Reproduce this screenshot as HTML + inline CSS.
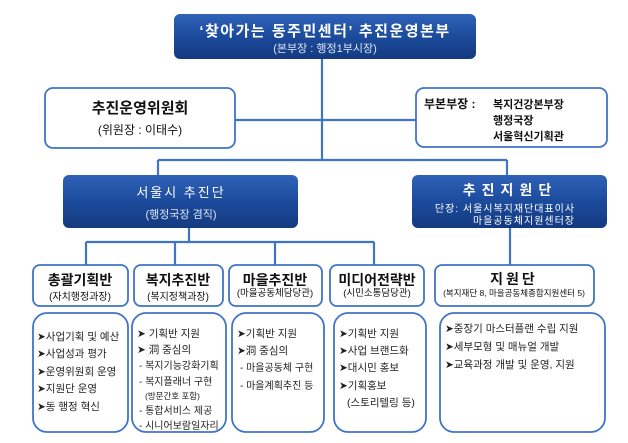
<!DOCTYPE html>
<html><head><meta charset="utf-8"><style>
html,body{margin:0;padding:0;background:#fff;}
svg{display:block;font-family:"Liberation Sans","Noto Sans CJK KR",sans-serif;}
</style></head><body>
<svg width="628" height="443" viewBox="0 0 628 443" xmlns="http://www.w3.org/2000/svg">
<defs>
<linearGradient id="g" x1="0" y1="0" x2="0" y2="1">
<stop offset="0" stop-color="#2f62b8"/><stop offset="0.5" stop-color="#1c4b9c"/><stop offset="1" stop-color="#143a80"/>
</linearGradient>
</defs>
<g stroke="#3f74c8" stroke-width="2.2" fill="none">
<line x1="322" y1="59" x2="322" y2="160"/>
<line x1="235" y1="120" x2="416" y2="120"/>
<line x1="158" y1="160" x2="507" y2="160"/>
<line x1="158" y1="160" x2="158" y2="175"/>
<line x1="507" y1="160" x2="507" y2="175"/>
<line x1="189" y1="228" x2="189" y2="242"/>
<line x1="86" y1="242" x2="374" y2="242"/>
<line x1="86" y1="242" x2="86" y2="265"/>
<line x1="175" y1="242" x2="175" y2="265"/>
<line x1="275" y1="242" x2="275" y2="265"/>
<line x1="374" y1="242" x2="374" y2="265"/>
<line x1="510" y1="228" x2="510" y2="265"/>
</g>
<rect x="174" y="14" width="302" height="45" rx="6" fill="url(#g)"/>
<rect x="63" y="175" width="235" height="53" rx="6" fill="url(#g)"/>
<rect x="412" y="175" width="195" height="53" rx="6" fill="url(#g)"/>
<g fill="#fff" stroke="#3f74c8" stroke-width="1.8">
<rect x="45" y="88" width="190" height="60" rx="8"/>
<rect x="416" y="88" width="191" height="59" rx="8"/>
<rect x="33" y="265" width="95" height="41" rx="7"/>
<rect x="134" y="265" width="89" height="41" rx="7"/>
<rect x="229" y="265" width="93" height="41" rx="7"/>
<rect x="330" y="265" width="94" height="41" rx="7"/>
<rect x="435" y="265" width="159" height="41" rx="7"/>
<rect x="33" y="313" width="95" height="119" rx="14"/>
<rect x="132" y="313" width="94" height="119" rx="14"/>
<rect x="232" y="313" width="92" height="119" rx="14"/>
<rect x="334" y="313" width="92" height="119" rx="14"/>
<rect x="440" y="313" width="165" height="119" rx="14"/>
</g>
<g fill="#fff" text-anchor="middle">
<text x="325" y="36" font-size="15" font-weight="bold" letter-spacing="1.5">‘찾아가는 동주민센터’ 추진운영본부</text>
<text x="325" y="52" font-size="11" fill="#dde6f5">(본부장 : 행정1부시장)</text>
<text x="181" y="197" font-size="13" letter-spacing="2">서울시 추진단</text>
<text x="181" y="218" font-size="11" fill="#dde6f5">(행정국장 겸직)</text>
<text x="510" y="195" font-size="14" font-weight="bold" letter-spacing="6">추진지원단</text>
<text x="505" y="212" font-size="10" letter-spacing="1">단장: 서울시복지재단대표이사</text>
<text x="524" y="224" font-size="10" letter-spacing="1">마을공동체지원센터장</text>
</g>
<g fill="#111" text-anchor="middle">
<text x="140" y="113" font-size="15" font-weight="bold">추진운영위원회</text>
<text x="140" y="134" font-size="12">(위원장 : 이태수)</text>
<text x="80" y="285" font-size="14" font-weight="bold">총괄기획반</text>
<text x="80" y="300" font-size="10">(자치행정과장)</text>
<text x="178" y="285" font-size="14" font-weight="bold">복지추진반</text>
<text x="178" y="300" font-size="10">(복지정책과장)</text>
<text x="275" y="285" font-size="14" font-weight="bold">마을추진반</text>
<text x="275" y="296" font-size="9.5">(마을공동체담당관)</text>
<text x="377" y="285" font-size="14" font-weight="bold">미디어전략반</text>
<text x="377" y="296" font-size="9.5">(시민소통담당관)</text>
<text x="514" y="284" font-size="14" font-weight="bold" letter-spacing="3">지원단</text>
<text x="514" y="296" font-size="8.5">(복지재단 8, 마을공동체종합지원센터 5)</text>
</g>
<g fill="#111" font-size="12" font-weight="bold">
<text x="424" y="108">부본부장 :</text>
<text x="493" y="108" font-size="11">복지건강본부장</text>
<text x="493" y="124" font-size="11">행정국장</text>
<text x="493" y="140" font-size="11">서울혁신기획관</text>
</g>
<g fill="#222" font-size="10.5">
<text x="37" y="340">➤사업기획 및 예산</text>
<text x="37" y="357">➤사업성과 평가</text>
<text x="37" y="375">➤운영위원회 운영</text>
<text x="37" y="392">➤지원단 운영</text>
<text x="37" y="410">➤동 행정 혁신</text>
<text x="137" y="337">➤ 기획반 지원</text>
<text x="137" y="353">➤ 洞 중심의</text>
<text x="139" y="369" font-size="10">- 복지기능강화기획</text>
<text x="139" y="385" font-size="10">- 복지플래너 구현</text>
<text x="145" y="399" font-size="8.5">(방문간호 포함)</text>
<text x="139" y="414" font-size="10">- 통합서비스 제공</text>
<text x="139" y="429" font-size="10">- 시니어보람일자리</text>
<text x="237" y="337">➤기획반 지원</text>
<text x="237" y="354">➤洞 중심의</text>
<text x="240" y="371" font-size="10">- 마을공동체 구현</text>
<text x="240" y="389" font-size="10">- 마을계획추진 등</text>
<text x="339" y="337">➤기획반 지원</text>
<text x="339" y="354">➤사업 브랜드화</text>
<text x="339" y="371">➤대시민 홍보</text>
<text x="339" y="389">➤기획홍보</text>
<text x="347" y="406">(스토리텔링 등)</text>
<text x="445" y="332">➤중장기 마스터플랜 수립 지원</text>
<text x="445" y="350">➤세부모형 및 매뉴얼 개발</text>
<text x="445" y="368">➤교육과정 개발 및 운영, 지원</text>
</g>
</svg>
</body></html>
